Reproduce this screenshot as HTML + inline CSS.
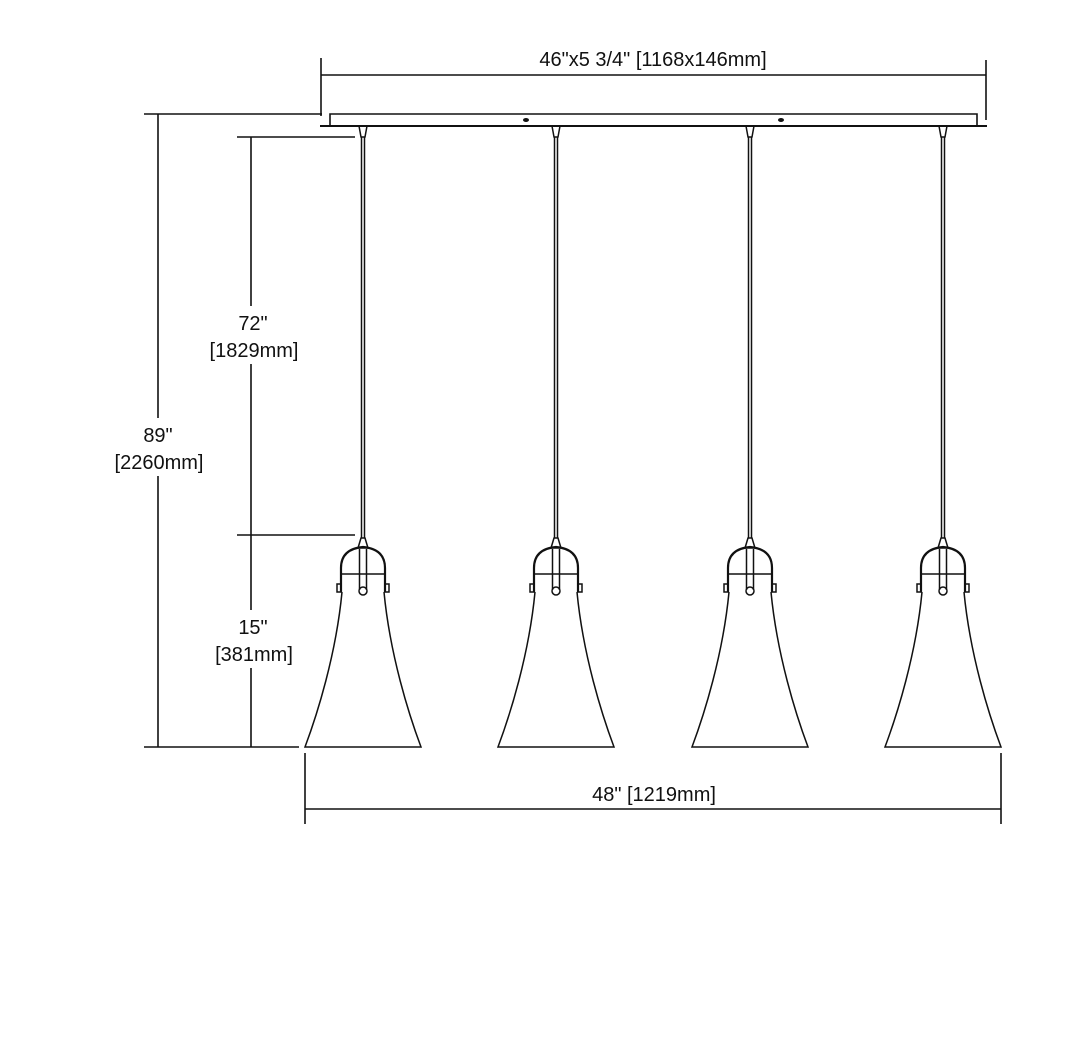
<!DOCTYPE html>
<html><head><style>body{margin:0;background:#fff}svg{display:block}text{font-family:"Liberation Sans",sans-serif;font-size:20px;fill:#111}</style></head>
<body>
<svg width="1080" height="1048" viewBox="0 0 1080 1048" xmlns="http://www.w3.org/2000/svg">
<g stroke="#111" stroke-width="1.6" fill="none">
<line x1="321" y1="58" x2="321" y2="116"/>
<line x1="986" y1="60" x2="986" y2="120"/>
<line x1="321" y1="75" x2="986" y2="75"/>
<path d="M330 126 L330 114 L977 114 L977 126"/>
<line x1="320" y1="126" x2="987" y2="126" stroke-width="2"/>
<line x1="144" y1="114" x2="322" y2="114"/>
<line x1="158" y1="114" x2="158" y2="747"/>
<line x1="144" y1="747" x2="299" y2="747"/>
<line x1="237" y1="137" x2="355" y2="137"/>
<line x1="251" y1="137" x2="251" y2="747"/>
<line x1="237" y1="535" x2="355" y2="535"/>
<line x1="305" y1="753" x2="305" y2="824"/>
<line x1="1001" y1="753" x2="1001" y2="824"/>
<line x1="305" y1="809" x2="1001" y2="809"/>
</g>
<ellipse cx="526" cy="120" rx="3" ry="2" fill="#111"/>
<ellipse cx="781" cy="120" rx="3" ry="2" fill="#111"/>
<defs>
<g id="p" stroke="#111" stroke-width="1.5" fill="none">
<path d="M-4 126 L-2 137 L2 137 L4 126"/>
<line x1="-1.5" y1="137" x2="-1.5" y2="538"/>
<line x1="1.5" y1="137" x2="1.5" y2="538"/>
<path d="M-2 538 L-5 548 L5 548 L2 538 Z"/>
<path d="M-22 592 L-22 568 Q-22 549 0 547 Q22 549 22 568 L22 592" stroke-width="2.2"/>
<line x1="-22" y1="574" x2="22" y2="574"/>
<path d="M-3.5 549 L-3.5 590 M3.5 549 L3.5 590"/>
<circle cx="0" cy="591" r="4"/>
<rect x="-26" y="584" width="4" height="8"/>
<rect x="22" y="584" width="4" height="8"/>
<path d="M-21 592 C-27 655 -46 715 -58 747 L58 747 C46 715 27 655 21 592"/>
</g>
</defs>
<use href="#p" x="363"/>
<use href="#p" x="556"/>
<use href="#p" x="750"/>
<use href="#p" x="943"/>
<g fill="#fff">
<rect x="200" y="306" width="110" height="58"/>
<rect x="105" y="418" width="110" height="58"/>
<rect x="200" y="610" width="110" height="58"/>
</g>
<text x="653" y="66" text-anchor="middle">46"x5 3/4" [1168x146mm]</text>
<text x="253" y="330" text-anchor="middle">72"</text>
<text x="254" y="357" text-anchor="middle">[1829mm]</text>
<text x="158" y="442" text-anchor="middle">89"</text>
<text x="159" y="469" text-anchor="middle">[2260mm]</text>
<text x="253" y="634" text-anchor="middle">15"</text>
<text x="254" y="661" text-anchor="middle">[381mm]</text>
<text x="654" y="801" text-anchor="middle">48" [1219mm]</text>
</svg>
</body></html>
